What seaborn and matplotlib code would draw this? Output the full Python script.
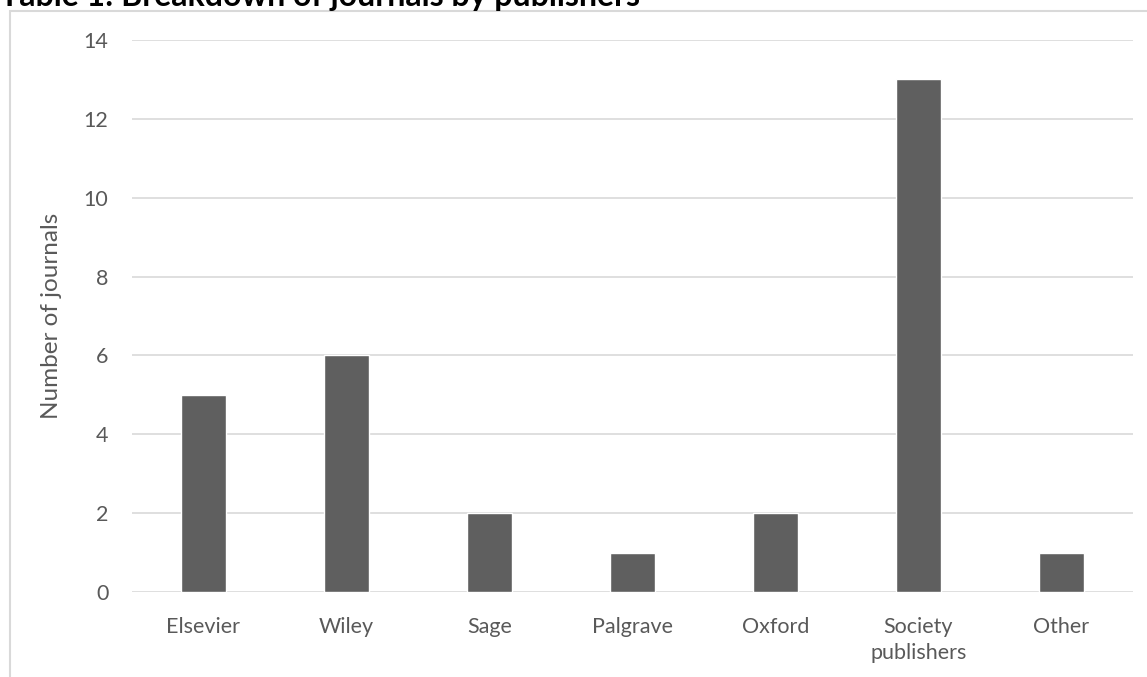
import matplotlib
matplotlib.use("Agg")
import matplotlib.pyplot as plt
import seaborn as sns
import pandas as pd
from matplotlib.patches import Rectangle

# data
publishers = ["Elsevier", "Wiley", "Sage", "Palgrave", "Oxford", "Society\npublishers", "Other"]
journals = [5, 6, 2, 1, 2, 13, 1]

df = pd.DataFrame({"publisher": publishers, "journals": journals})

sns.set_style("white")
plt.rcParams["font.family"] = ["Lato", "DejaVu Sans"]

grey_text = "#595959"
grid_col = "#d9d9d9"

fig = plt.figure(figsize=(11.47, 6.77), dpi=100)
ax = fig.add_axes([132 / 1147, 1 - 592 / 677, (1133 - 132) / 1147, (592 - 40) / 677])

sns.barplot(data=df, x="publisher", y="journals", color="#5f5f5f", width=0.32,
            saturation=1, ax=ax, zorder=3)

ax.set_ylim(0, 14)
ax.set_yticks(range(0, 15, 2))
ax.set_xlim(-0.5, len(publishers) - 0.5)
ax.yaxis.grid(True, color=grid_col, linewidth=1.2, zorder=0)
ax.xaxis.grid(False)
for s in ax.spines.values():
    s.set_visible(False)
ax.tick_params(axis="both", length=0, labelsize=15.5, labelcolor=grey_text)
ax.tick_params(axis="y", pad=17)
ax.tick_params(axis="x", pad=18)
for lbl in ax.get_xticklabels():
    lbl.set_linespacing(1.4)
ax.set_xlabel("")
ax.set_ylabel("Number of journals", fontsize=17.5, color=grey_text)
ax.yaxis.set_label_coords(-(132 - 62) / 1001, 0.5)

# chart frame (cut off at right and bottom)
fig.patches.append(Rectangle((10 / 1147, -0.1), 1.2, 1 - 11 / 677 + 0.1,
                             transform=fig.transFigure, fill=False,
                             edgecolor=grid_col, linewidth=1.5, zorder=0))

# title, cut off at the top of the picture
fig.text(0.0, 1 - 6 / 677, "Table 1: Breakdown of journals by publishers",
         fontsize=23, fontweight="bold", color="black", va="baseline", ha="left")

fig.savefig("out.png", dpi=100)
